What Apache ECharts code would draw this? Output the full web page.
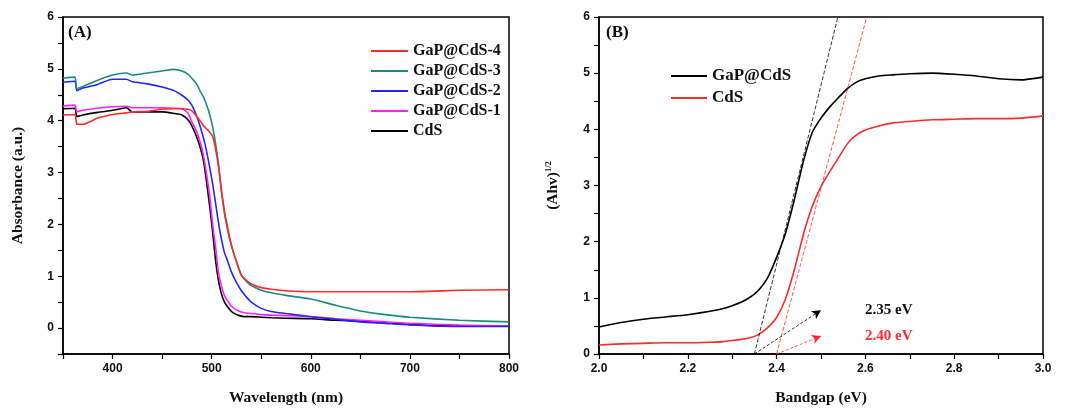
<!DOCTYPE html>
<html>
<head>
<meta charset="utf-8">
<script src="https://cdn.jsdelivr.net/npm/echarts@6/dist/echarts.min.js"></script>
<style>
  html, body { margin: 0; padding: 0; background: #fff; }
  #chart { width: 1070px; height: 411px; }
</style>
</head>
<body>
<div id="chart"></div>
<script>
// ---- Panel (A): UV-vis absorbance spectra ----
const wavelength = [350, 362, 364, 370, 385, 400, 414, 420, 435, 450, 462, 470, 476, 480, 485, 489, 492, 495, 498, 501,
                    504, 507, 510, 513, 516, 520, 525, 530, 535, 540, 550, 560, 575, 600, 625, 650, 675, 700, 750, 800];
const absCdS   = [4.23, 4.24, 4.08, 4.11, 4.16, 4.20, 4.25, 4.17, 4.17, 4.17, 4.14, 4.11, 4.02, 3.90, 3.68, 3.45, 3.20, 2.80, 2.35, 1.85,
                  1.30, 0.90, 0.65, 0.50, 0.41, 0.32, 0.26, 0.23, 0.22, 0.22, 0.21, 0.20, 0.19, 0.18, 0.15, 0.13, 0.10, 0.07, 0.04, 0.04];
const absGaP1  = [4.28, 4.30, 4.17, 4.20, 4.24, 4.27, 4.28, 4.25, 4.25, 4.25, 4.24, 4.23, 4.15, 3.98, 3.78, 3.55, 3.30, 2.95, 2.55, 2.00,
                  1.55, 1.05, 0.80, 0.62, 0.53, 0.42, 0.35, 0.31, 0.29, 0.28, 0.26, 0.25, 0.24, 0.22, 0.18, 0.15, 0.12, 0.09, 0.06, 0.04];
const absGaP2  = [4.74, 4.76, 4.58, 4.63, 4.70, 4.80, 4.80, 4.75, 4.71, 4.65, 4.58, 4.49, 4.40, 4.30, 4.08, 3.85, 3.65, 3.40, 3.10, 2.78,
                  2.40, 2.02, 1.70, 1.45, 1.30, 1.08, 0.88, 0.72, 0.60, 0.50, 0.38, 0.32, 0.28, 0.22, 0.17, 0.12, 0.09, 0.06, 0.03, 0.03];
const absGaP3  = [4.82, 4.84, 4.62, 4.66, 4.78, 4.88, 4.92, 4.88, 4.92, 4.96, 4.99, 4.96, 4.90, 4.82, 4.70, 4.55, 4.45, 4.30, 4.12, 3.88,
                  3.55, 3.15, 2.60, 2.20, 1.90, 1.58, 1.28, 1.02, 0.90, 0.82, 0.73, 0.68, 0.63, 0.56, 0.44, 0.33, 0.26, 0.21, 0.15, 0.12];
const absGaP4  = [4.11, 4.12, 3.93, 3.93, 4.05, 4.12, 4.15, 4.17, 4.18, 4.22, 4.23, 4.23, 4.22, 4.19, 4.08, 3.98, 3.90, 3.84, 3.78, 3.70,
                  3.45, 3.10, 2.65, 2.25, 1.95, 1.60, 1.28, 1.02, 0.92, 0.85, 0.78, 0.75, 0.72, 0.70, 0.70, 0.70, 0.70, 0.70, 0.73, 0.74];

// ---- Panel (B): Tauc plot ----
const energy   = [2.0, 2.05, 2.1, 2.15, 2.2, 2.25, 2.28, 2.30, 2.32, 2.34, 2.36, 2.38, 2.40, 2.42, 2.44, 2.46, 2.48, 2.50,
                  2.52, 2.54, 2.56, 2.58, 2.60, 2.63, 2.66, 2.7, 2.75, 2.8, 2.85, 2.9, 2.95, 3.0];
const taucGaP  = [0.48, 0.56, 0.62, 0.66, 0.70, 0.76, 0.81, 0.86, 0.92, 1.01, 1.14, 1.36, 1.72, 2.15, 2.75, 3.42, 3.94, 4.20,
                  4.40, 4.57, 4.73, 4.84, 4.90, 4.95, 4.97, 4.99, 5.00, 4.98, 4.95, 4.90, 4.88, 4.93];
const taucCdS  = [0.16, 0.18, 0.19, 0.20, 0.20, 0.21, 0.22, 0.24, 0.26, 0.29, 0.35, 0.47, 0.65, 0.98, 1.50, 2.12, 2.62, 2.98,
                  3.25, 3.50, 3.75, 3.90, 3.99, 4.06, 4.11, 4.14, 4.17, 4.18, 4.19, 4.19, 4.20, 4.24];

// Linear extrapolations to the energy axis and the arrows pointing at the intercepts
const tangentGaP = [[2.35, 0], [2.538, 6]];
const tangentCdS = [[2.40, 0], [2.603, 6]];
const arrowGaP   = [[2.35, 0.0], [2.50, 0.78]];
const arrowCdS   = [[2.40, 0.0], [2.50, 0.32]];
const gapLabels  = ['2.35 eV', '2.40 eV'];

const xTicksA = [400, 500, 600, 700, 800];
const yTicks  = [0, 1, 2, 3, 4, 5, 6];

const C = { red: '#ff2a2a', teal: '#1b8c7b', blue: '#2424ff', magenta: '#ff1eff', black: '#000000' };

const zip = (xs, ys) => xs.map((x, i) => [x, ys[i]]);
const serif = 'Liberation Serif, Times New Roman, serif';
const sans = 'Liberation Sans, Arial, sans-serif';

const tickLabel = { fontFamily: sans, fontWeight: 'bold', fontSize: 12, color: '#111', margin: 9 };
const axisNameStyle = { fontFamily: serif, fontWeight: 'bold', fontSize: 15.5, color: '#111' };
const axisLine = { show: true, onZero: false, lineStyle: { color: '#000', width: 1.5 } };
const axisTick = { show: true, length: 5, lineStyle: { color: '#000', width: 1.2 } };

function curve(name, xs, ys, color, gi) {
  return {
    name, type: 'line', xAxisIndex: gi, yAxisIndex: gi,
    data: zip(xs, ys), showSymbol: false, smooth: 0.2,
    lineStyle: { color, width: 1.6 }, itemStyle: { color }, z: 3
  };
}

function tangent(pts, color, arrow) {
  return {
    type: 'line', xAxisIndex: 1, yAxisIndex: 1, data: pts, showSymbol: false, silent: true,
    lineStyle: { color, width: 0.8, type: [4, 2] }, z: 4,
    markLine: {
      silent: true, symbol: ['none', 'arrow'], symbolSize: [7, 9],
      label: { show: false },
      lineStyle: { color, width: 0.8, type: [3, 2] },
      data: [[{ coord: arrow[0] }, { coord: arrow[1] }]]
    }
  };
}

const chart = echarts.init(document.getElementById('chart'), null, { renderer: 'canvas' });

chart.setOption({
  animation: false,
  backgroundColor: '#ffffff',
  grid: [
    { left: 63, top: 17, width: 446, height: 343, show: true, borderColor: '#000', borderWidth: 1.5, backgroundColor: 'transparent' },
    { left: 599, top: 17, width: 444, height: 343, show: true, borderColor: '#000', borderWidth: 1.5, backgroundColor: 'transparent' }
  ],
  xAxis: [
    {
      gridIndex: 0, type: 'value', min: 350, max: 800, interval: 50,
      axisLine, axisTick, splitLine: { show: false },
      axisLabel: Object.assign({}, tickLabel, { formatter: v => (xTicksA.includes(v) ? String(v) : '') }),
      name: 'Wavelength (nm)', nameLocation: 'middle', nameGap: 36, nameTextStyle: axisNameStyle
    },
    {
      gridIndex: 1, type: 'value', min: 2.0, max: 3.0, interval: 0.1,
      axisLine, axisTick, splitLine: { show: false },
      axisLabel: Object.assign({}, tickLabel, {
        formatter: v => (Math.round(v * 10) % 2 === 0 ? v.toFixed(1) : '')
      }),
      name: 'Bandgap (eV)', nameLocation: 'middle', nameGap: 36, nameTextStyle: axisNameStyle
    }
  ],
  yAxis: [
    {
      gridIndex: 0, type: 'value', min: -0.5, max: 6, interval: 0.5,
      axisLine, axisTick, splitLine: { show: false },
      axisLabel: Object.assign({}, tickLabel, { formatter: v => (yTicks.includes(v) ? String(v) : '') }),
      name: 'Absorbance (a.u.)', nameLocation: 'middle', nameGap: 37, nameTextStyle: axisNameStyle
    },
    {
      gridIndex: 1, type: 'value', min: 0, max: 6, interval: 0.5,
      axisLine, axisTick, splitLine: { show: false },
      axisLabel: Object.assign({}, tickLabel, { formatter: v => (yTicks.includes(v) ? String(v) : '') }),
      name: '{b|(Ahv)}{s|1/2}', nameLocation: 'middle', nameGap: 37,
      nameTextStyle: Object.assign({}, axisNameStyle, {
        rich: {
          b: { fontFamily: serif, fontWeight: 'bold', fontSize: 15.5, color: '#111', lineHeight: 18 },
          s: { fontFamily: serif, fontWeight: 'bold', fontSize: 8.5, color: '#111', verticalAlign: 'top' }
        }
      })
    }
  ],
  legend: [
    {
      orient: 'vertical', left: 366, top: 38, icon: 'rect', itemWidth: 37, itemHeight: 2, itemGap: 4,
      textStyle: { fontFamily: serif, fontWeight: 'bold', fontSize: 16, color: '#111', lineHeight: 16 },
      data: ['GaP@CdS-4', 'GaP@CdS-3', 'GaP@CdS-2', 'GaP@CdS-1',
             { name: 'CdS', itemStyle: { color: C.black } }]
    },
    {
      orient: 'vertical', left: 666, top: 62, icon: 'rect', itemWidth: 36, itemHeight: 2, itemGap: 4,
      textStyle: { fontFamily: serif, fontWeight: 'bold', fontSize: 17, color: '#111', lineHeight: 18 },
      data: [{ name: 'GaP@CdS', itemStyle: { color: C.black } },
             { name: 'CdS', itemStyle: { color: C.red } }]
    }
  ],
  graphic: [
    { type: 'text', left: 68, top: 24, style: { text: '(A)', font: 'bold 17px ' + serif, fill: '#111' } },
    { type: 'text', left: 606, top: 24, style: { text: '(B)', font: 'bold 17px ' + serif, fill: '#111' } },
    { type: 'text', left: 865, top: 303, style: { text: gapLabels[0], font: 'bold 15px ' + serif, fill: '#111' } },
    { type: 'text', left: 865, top: 329, style: { text: gapLabels[1], font: 'bold 15px ' + serif, fill: C.red } }
  ],
  series: [
    curve('CdS', wavelength, absCdS, C.black, 0),
    curve('GaP@CdS-1', wavelength, absGaP1, C.magenta, 0),
    curve('GaP@CdS-2', wavelength, absGaP2, C.blue, 0),
    curve('GaP@CdS-3', wavelength, absGaP3, C.teal, 0),
    curve('GaP@CdS-4', wavelength, absGaP4, C.red, 0),
    curve('GaP@CdS', energy, taucGaP, C.black, 1),
    curve('CdS', energy, taucCdS, C.red, 1),
    tangent(tangentGaP, C.black, arrowGaP),
    tangent(tangentCdS, C.red, arrowCdS)
  ]
});
</script>
</body>
</html>
